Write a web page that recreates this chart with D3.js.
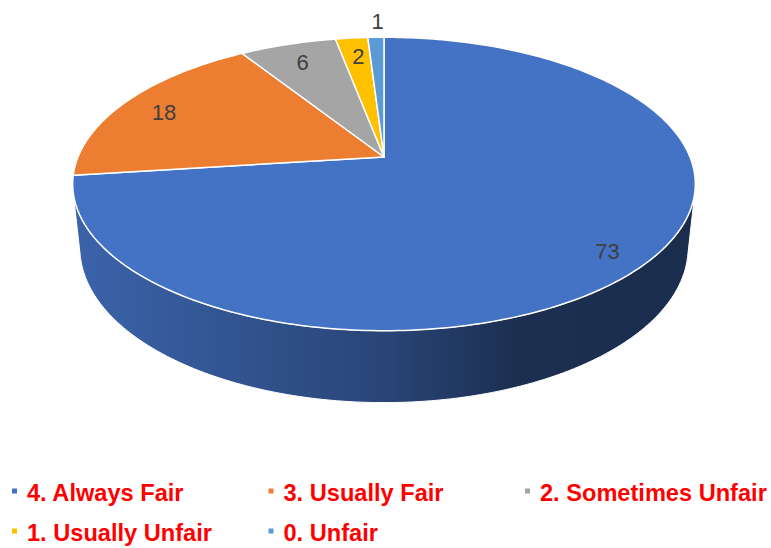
<!DOCTYPE html>
<html>
<head>
<meta charset="utf-8">
<script src="https://cdn.jsdelivr.net/npm/d3@7"></script>
<style>
  body { margin: 0; background: #fff; overflow: hidden; }
  svg { display: block; font-family: "Liberation Sans", Arial, sans-serif; }
</style>
</head>
<body>
<div id="chart"></div>
<script>
// data
var categories = ["4. Always Fair", "3. Usually Fair", "2. Sometimes Unfair", "1. Usually Unfair", "0. Unfair"];
var values = [73, 18, 6, 2, 1];
var palette = ["#4472c4", "#ed7d31", "#a5a5a5", "#ffc000", "#5b9bd5"];

var width = 771, height = 548;

// 3d pie settings (camera tilt + perspective)
var cx = 384, cy = 157,
  focal = 306,
  tilt = 27.6 * Math.PI / 180,
  dist = 4.82,
  thick = 0.237;
var sT = Math.sin(tilt), cT = Math.cos(tilt);

// project a point on the disc: pie angle a, radius fraction r, height y
function proj(a, r, y) {
  var X = r * Math.sin(a), Z = -r * Math.cos(a), Y = y;
  var depth = Y * sT + Z * cT;
  var up = Y * cT - Z * sT;
  var k = dist / (dist - depth);
  return [cx + focal * X * k, cy - focal * up * k];
}

function arcPoints(a0, a1, r, y) {
  var n = Math.max(2, Math.ceil(Math.abs(a1 - a0) / (Math.PI / 180)));
  return d3.range(n + 1).map(function (i) {
    return proj(a0 + (a1 - a0) * i / n, r, y);
  });
}

var color = d3.scaleOrdinal().domain(categories).range(palette);

var pie = d3.pie().sort(null).value(function (d) { return d; });
var slices = pie(values);

var svg = d3
  .select("#chart")
  .append("svg")
  .attr("width", width)
  .attr("height", height);

var defs = svg.append("defs");
var line = d3.line().curve(d3.curveLinearClosed);

// wall faces the viewer where cos(a) < -1/(dist*cos(tilt))
var wallLimit = Math.acos(-1 / (dist * cT));
var wallFrom = wallLimit, wallTo = 2 * Math.PI - wallLimit;

var walls = svg.append("g");
slices.forEach(function (d, i) {
  var a0 = Math.max(d.startAngle, wallFrom),
    a1 = Math.min(d.endAngle, wallTo);
  if (a1 <= a0) return;
  var base = d3.color(color(categories[i]));
  var grad = defs.append("linearGradient")
    .attr("id", "wall" + i)
    .attr("gradientUnits", "userSpaceOnUse")
    .attr("x1", cx - focal).attr("x2", cx + focal)
    .attr("y1", 0).attr("y2", 0);
  [[0, 0.4], [0.5, 1.4], [0.72, 2.5], [1, 2.6]].forEach(function (s) {
    grad.append("stop").attr("offset", s[0]).attr("stop-color", base.darker(s[1]));
  });
  var pts = arcPoints(a0, a1, 1, 0).concat(arcPoints(a1, a0, 1, -thick));
  walls.append("path")
    .attr("d", line(pts))
    .attr("fill", "url(#wall" + i + ")")
    .attr("stroke", "#fff")
    .attr("stroke-width", 1);
});

// top face
var tops = svg.append("g");
slices.forEach(function (d, i) {
  var pts = [proj(0, 0, 0)].concat(arcPoints(d.startAngle, d.endAngle, 1, 0));
  tops.append("path")
    .attr("d", line(pts))
    .attr("fill", color(categories[i]))
    .attr("stroke", "#fff")
    .attr("stroke-width", 1.5)
    .attr("stroke-linejoin", "round");
});

// data labels (tiny slices get their label outside)
function labelPos(d) {
  var r = (d.endAngle - d.startAngle) < 0.015 * 2 * Math.PI ? 1.2 : 0.86;
  return proj((d.startAngle + d.endAngle) / 2, r, 0);
}
svg.append("g")
  .selectAll("text")
  .data(slices)
  .enter()
  .append("text")
  .attr("x", function (d) { return labelPos(d)[0] + 3; })
  .attr("y", function (d) { return labelPos(d)[1] + 4; })
  .attr("dy", "0.35em")
  .attr("text-anchor", "middle")
  .style("font-size", "22px")
  .style("fill", "#404040")
  .text(function (d) { return d.data; });

// legend
var colW = 256.5, rowH = 40;
var legend = svg.append("g").attr("transform", "translate(27,500.5)");
var item = legend.selectAll("g")
  .data(categories)
  .enter()
  .append("g")
  .attr("transform", function (d, i) {
    return "translate(" + (i % 3) * colW + "," + Math.floor(i / 3) * rowH + ")";
  });
item.append("rect")
  .attr("x", -15).attr("y", -12)
  .attr("width", 5).attr("height", 5)
  .attr("fill", function (d) { return color(d); });
item.append("text")
  .attr("x", 0).attr("y", 0)
  .style("font-size", "23.6px")
  .style("font-weight", "bold")
  .style("fill", "#ff0000")
  .text(function (d) { return d; });
</script>
</body>
</html>
